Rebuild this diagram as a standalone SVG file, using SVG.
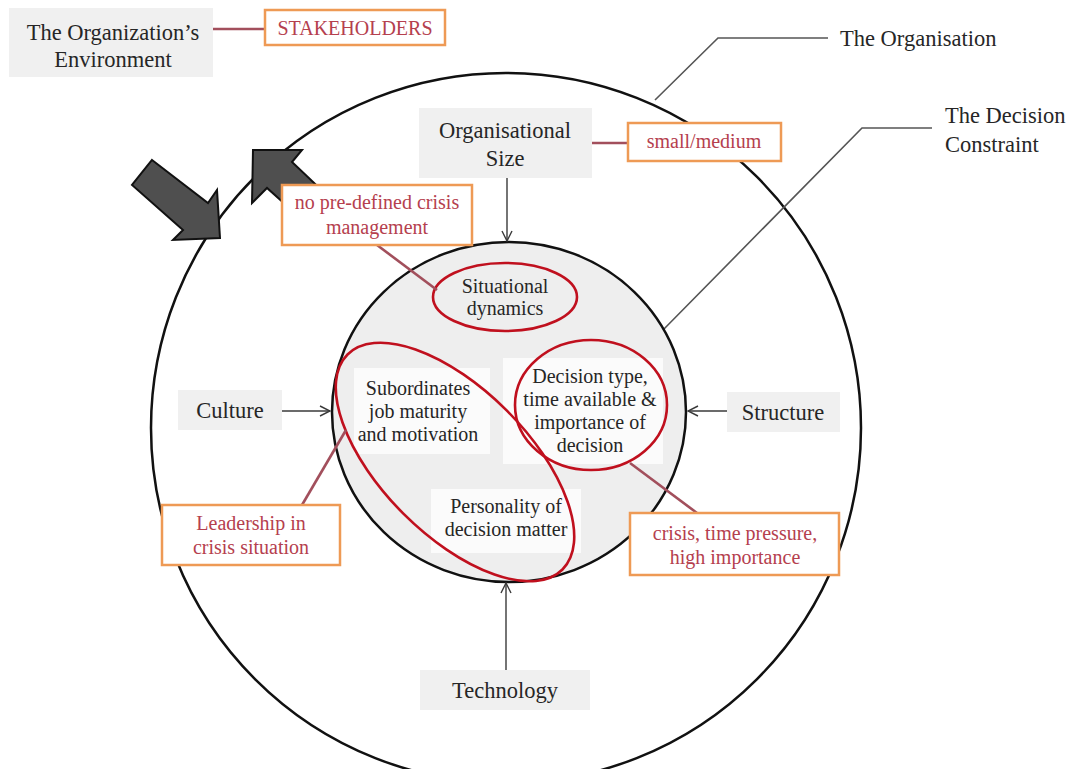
<svg xmlns="http://www.w3.org/2000/svg" width="1074" height="769" viewBox="0 0 1074 769">
  <style>
    text { font-family: "Liberation Serif", "Times New Roman", serif; fill: #262626; }
    .outer { font-size: 22.5px; }
    .inner { font-size: 20px; }
    .note { font-size: 20px; fill: #b5404e; }
    .gray { fill: #f0f0f0; }
    .orange { fill: #ffffff; stroke: #ee9a55; stroke-width: 2.5; }
    .red-ring { fill: none; stroke: #c0101e; stroke-width: 2.6; }
    .leader { fill: none; stroke: #555555; stroke-width: 1.6; }
    .link { fill: none; stroke: #a24f5c; stroke-width: 2.6; }
    .flow { fill: none; stroke: #3a3a3a; stroke-width: 1.4; marker-end: url(#chev); }
    .block { fill: #4f4f4f; stroke: #111111; stroke-width: 2; stroke-linejoin: miter; }
    .pad { fill: #fbfbfb; }
  </style>
  <defs>
    <marker id="chev" viewBox="0 0 12 12" refX="11" refY="6" markerWidth="12" markerHeight="12" markerUnits="userSpaceOnUse" orient="auto">
      <path d="M1,1 L11,6 L1,11" fill="none" stroke="#3a3a3a" stroke-width="1.4"/>
    </marker>
  </defs>

  <rect width="1074" height="769" fill="#ffffff"/>

  <!-- organisation boundary -->
  <g id="organisation">
    <circle cx="506" cy="428" r="355" fill="none" stroke="#111111" stroke-width="2.5"/>
  </g>

  <!-- labels pointing at the two rings -->
  <g id="label-organisation">
    <polyline class="leader" points="655,100 718,38 828,38"/>
    <text class="outer" x="840" y="46">The Organisation</text>
  </g>
  <g id="label-decision-constraint">
    <polyline class="leader" points="663,330 862,128 932,128"/>
    <text class="outer" x="945" y="123">The Decision</text>
    <text class="outer" x="945" y="152">Constraint</text>
  </g>

  <!-- inward / outward block arrows across the boundary -->
  <g id="arrow-in">
    <polygon class="block" points="152,160 208,203 217,190 220,238 173,240 183,230 132,185"/>
  </g>
  <g id="arrow-out">
    <polygon class="block" points="253,150 302,150 292,162 332,200 307,224 267,188 252,203"/>
  </g>

  <!-- decision constraint core -->
  <g id="decision-constraint">
    <ellipse cx="509" cy="412" rx="177" ry="170" fill="#eeeeee" stroke="#111111" stroke-width="2.5"/>
    <rect class="pad" x="354" y="368" width="136" height="86"/>
    <rect class="pad" x="503" y="358" width="160" height="106"/>
    <rect class="pad" x="431" y="489" width="150" height="64"/>
  </g>

  <g id="situational-dynamics">
    <ellipse class="red-ring" cx="505" cy="297" rx="72" ry="34"/>
    <text class="inner" x="505" y="293" text-anchor="middle">Situational</text>
    <text class="inner" x="505" y="315" text-anchor="middle">dynamics</text>
  </g>

  <g id="subordinates">
    <ellipse class="red-ring" cx="455" cy="462" rx="152" ry="73" transform="rotate(45 455 462)"/>
    <text class="inner" x="418" y="395" text-anchor="middle">Subordinates</text>
    <text class="inner" x="418" y="418" text-anchor="middle">job maturity</text>
    <text class="inner" x="418" y="441" text-anchor="middle">and motivation</text>
  </g>

  <g id="decision-type">
    <ellipse class="red-ring" cx="591" cy="405" rx="76" ry="65"/>
    <text class="inner" x="590" y="383" text-anchor="middle">Decision type,</text>
    <text class="inner" x="590" y="406" text-anchor="middle">time available &amp;</text>
    <text class="inner" x="590" y="429" text-anchor="middle">importance of</text>
    <text class="inner" x="590" y="452" text-anchor="middle">decision</text>
  </g>

  <g id="personality">
    <text class="inner" x="506" y="513" text-anchor="middle">Personality of</text>
    <text class="inner" x="506" y="536" text-anchor="middle">decision matter</text>
  </g>

  <!-- connectors -->
  <g id="connectors">
    <line class="link" x1="213" y1="29" x2="265" y2="29"/>
    <line class="link" x1="592" y1="143" x2="628" y2="143"/>
    <line class="link" x1="377" y1="245" x2="437" y2="290"/>
    <line class="link" x1="302" y1="505" x2="346" y2="430"/>
    <line class="link" x1="697" y1="513" x2="630" y2="463"/>
    <line class="flow" x1="507" y1="178" x2="507" y2="241"/>
    <line class="flow" x1="282" y1="411" x2="330" y2="411"/>
    <line class="flow" x1="727" y1="411" x2="688" y2="411"/>
    <line class="flow" x1="506" y1="670" x2="506" y2="583"/>
  </g>

  <!-- context factors -->
  <g id="environment">
    <rect class="gray" x="9" y="8" width="204" height="69"/>
    <text class="outer" x="113" y="40" text-anchor="middle">The Organization’s</text>
    <text class="outer" x="113" y="67" text-anchor="middle">Environment</text>
  </g>
  <g id="stakeholders">
    <rect class="orange" x="265" y="10" width="180" height="35"/>
    <text class="note" x="355" y="35" text-anchor="middle">STAKEHOLDERS</text>
  </g>
  <g id="organisational-size">
    <rect class="gray" x="419" y="108" width="173" height="70"/>
    <text class="outer" x="505" y="138" text-anchor="middle">Organisational</text>
    <text class="outer" x="505" y="166" text-anchor="middle">Size</text>
  </g>
  <g id="small-medium">
    <rect class="orange" x="628" y="123" width="153" height="38"/>
    <text class="note" x="704" y="148" text-anchor="middle">small/medium</text>
  </g>
  <g id="no-crisis-management">
    <rect class="orange" x="282" y="185" width="190" height="60"/>
    <text class="note" x="377" y="209" text-anchor="middle">no pre-defined crisis</text>
    <text class="note" x="377" y="234" text-anchor="middle">management</text>
  </g>
  <g id="culture">
    <rect class="gray" x="178" y="390" width="104" height="40"/>
    <text class="outer" x="230" y="418" text-anchor="middle">Culture</text>
  </g>
  <g id="structure">
    <rect class="gray" x="727" y="392" width="113" height="40"/>
    <text class="outer" x="783" y="420" text-anchor="middle">Structure</text>
  </g>
  <g id="leadership">
    <rect class="orange" x="162" y="505" width="178" height="60"/>
    <text class="note" x="251" y="530" text-anchor="middle">Leadership in</text>
    <text class="note" x="251" y="554" text-anchor="middle">crisis situation</text>
  </g>
  <g id="crisis-pressure">
    <rect class="orange" x="630" y="513" width="209" height="62"/>
    <text class="note" x="735" y="540" text-anchor="middle">crisis, time pressure,</text>
    <text class="note" x="735" y="564" text-anchor="middle">high importance</text>
  </g>
  <g id="technology">
    <rect class="gray" x="420" y="670" width="170" height="40"/>
    <text class="outer" x="505" y="698" text-anchor="middle">Technology</text>
  </g>
</svg>
